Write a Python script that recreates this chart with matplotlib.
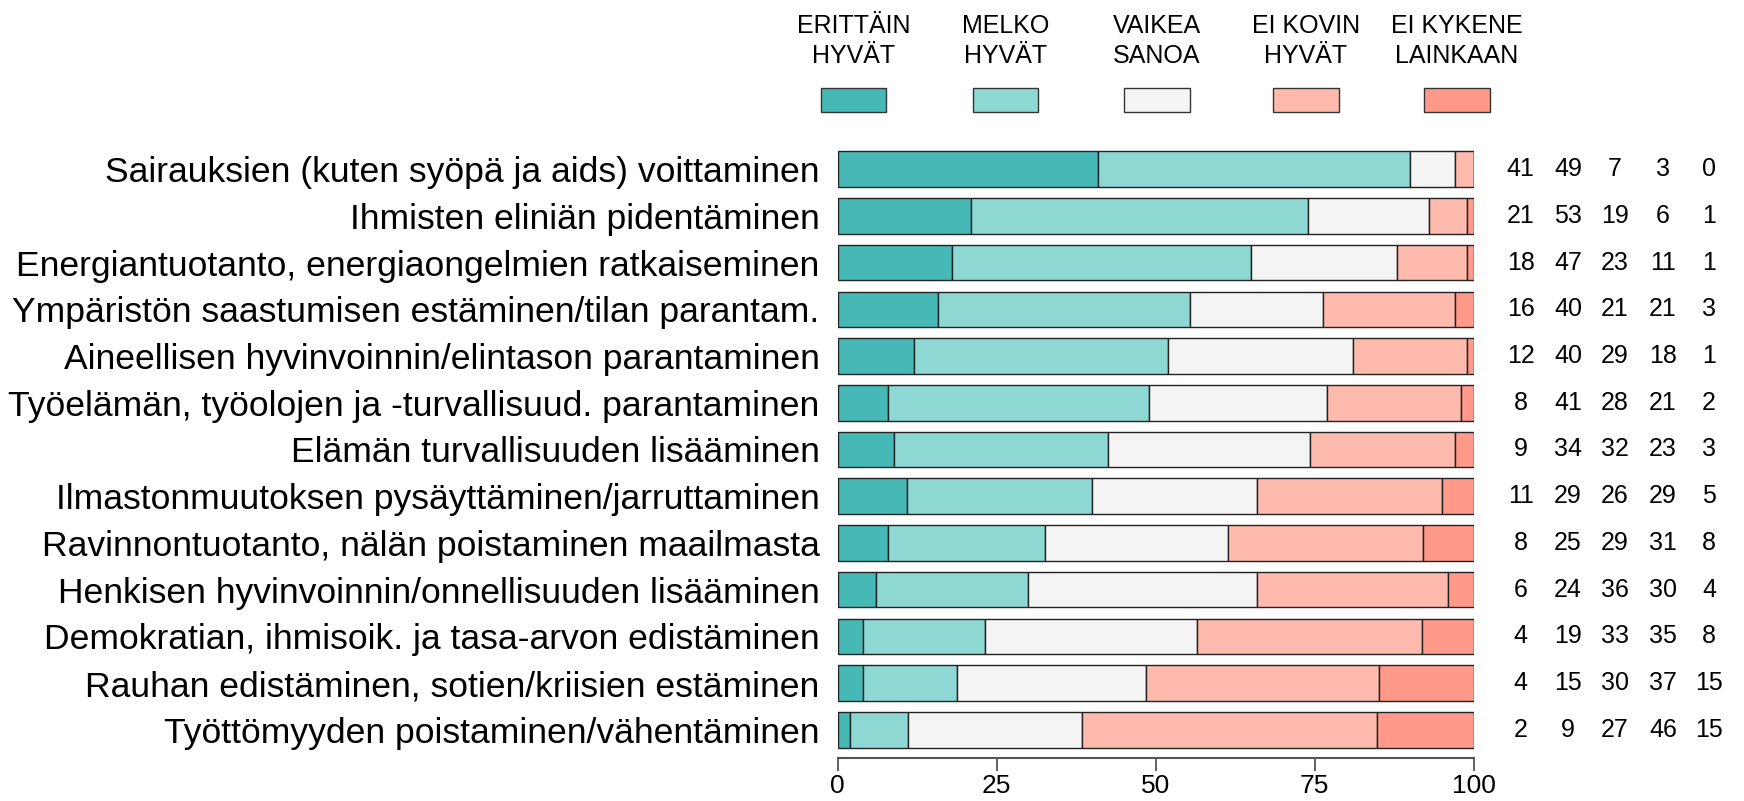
import numpy as np
import matplotlib
matplotlib.use("Agg")
import matplotlib.pyplot as plt
import matplotlib.transforms as mtransforms
from matplotlib.patches import Rectangle

# Dataa: luokat, vastausvaihtoehdot ja prosentit
kategoriat = [
    "Sairauksien (kuten syöpä ja aids) voittaminen",
    "Ihmisten eliniän pidentäminen",
    "Energiantuotanto, energiaongelmien ratkaiseminen",
    "Ympäristön saastumisen estäminen/tilan parantam.",
    "Aineellisen hyvinvoinnin/elintason parantaminen",
    "Työelämän, työolojen ja -turvallisuud. parantaminen",
    "Elämän turvallisuuden lisääminen",
    "Ilmastonmuutoksen pysäyttäminen/jarruttaminen",
    "Ravinnontuotanto, nälän poistaminen maailmasta",
    "Henkisen hyvinvoinnin/onnellisuuden lisääminen",
    "Demokratian, ihmisoik. ja tasa-arvon edistäminen",
    "Rauhan edistäminen, sotien/kriisien estäminen",
    "Työttömyyden poistaminen/vähentäminen",
]
vaihtoehdot = ["ERITTÄIN\nHYVÄT", "MELKO\nHYVÄT", "VAIKEA\nSANOA", "EI KOVIN\nHYVÄT", "EI KYKENE\nLAINKAAN"]
erittain = [41, 21, 18, 16, 12, 8, 9, 11, 8, 6, 4, 4, 2]
melko = [49, 53, 47, 40, 40, 41, 34, 29, 25, 24, 19, 15, 9]
vaikea = [7, 19, 23, 21, 29, 28, 32, 26, 29, 36, 33, 30, 27]
ei_kovin = [3, 6, 11, 21, 18, 21, 23, 29, 31, 30, 35, 37, 46]
ei_kykene = [0, 1, 1, 3, 1, 2, 3, 5, 8, 4, 8, 15, 15]
x_ticks = [0, 25, 50, 75, 100]

varit = ["#46B9B6", "#8ED8D4", "#F4F4F4", "#FFBAAE", "#FF998A"]

W, H = 1744, 801
fig = plt.figure(figsize=(W / 100, H / 100), dpi=100)
fontti = ["Liberation Sans", "DejaVu Sans"]
plt.rcParams["font.family"] = fontti


def sovita(teksti, leveys_px):
    # fonttikoko, jolla teksti on annetun levyinen
    r = fig.canvas.get_renderer()
    t = fig.text(0, 0, teksti, fontsize=20)
    w = t.get_window_extent(r).width
    t.remove()
    return 20 * leveys_px / w


koko_kat = sovita(kategoriat[2], 800)

# akselin paikka pikseleinä
x0, x1 = 837.5, 1473.7
yl, yt = 758, 141
ax = fig.add_axes([x0 / W, 1 - yl / H, (x1 - x0) / W, (yl - yt) / H])

sarjat = np.array([erittain, melko, vaikea, ei_kovin, ei_kykene], dtype=float)
osuudet = sarjat / sarjat.sum(axis=0) * 100
y = np.arange(len(kategoriat))
vasen = np.zeros(len(kategoriat))
for i in range(len(sarjat)):
    ax.barh(y, osuudet[i], left=vasen, height=0.76, color=varit[i],
            edgecolor="#222222", linewidth=1.0)
    vasen += osuudet[i]

ax.set_ylim(12.6, -0.6)
ax.set_xlim(0, 100)
ax.set_yticks(y)
ax.set_yticklabels(kategoriat, fontsize=koko_kat)
ax.tick_params(axis="y", length=0, pad=13)
ax.set_xticks(x_ticks)
ax.set_xticklabels([str(t) for t in x_ticks], fontsize=19)
ax.tick_params(axis="x", length=9, width=1.3, color="#555555", pad=2.5)
for s in ["top", "right", "left"]:
    ax.spines[s].set_visible(False)
ax.spines["bottom"].set_color("#555555")
ax.spines["bottom"].set_linewidth(1.5)

# prosenttiluvut oikealla
sarake_x = [1520.7, 1568, 1615, 1663, 1709]
trans = mtransforms.blended_transform_factory(fig.transFigure, ax.transData)
for i in range(len(sarjat)):
    for j in range(len(kategoriat)):
        ax.text(sarake_x[i] / W, y[j], str(int(sarjat[i][j])), transform=trans,
                ha="center", va="center", fontsize=18)

# selite
selite_x = [853.6, 1005.5, 1156.7, 1305.8, 1457]
bw, bh = 65.6, 24.5
for i, nimi in enumerate(vaihtoehdot):
    cx = selite_x[i]
    fig.text(cx / W, 1 - 41 / H, nimi, ha="center", va="center", fontsize=18,
             linespacing=1.3)
    fig.patches.append(Rectangle(((cx - bw / 2) / W, 1 - 112 / H), bw / W, bh / H,
                                 transform=fig.transFigure, facecolor=varit[i],
                                 edgecolor="#333333", linewidth=1.0))

fig.savefig("out.png", dpi=100)
